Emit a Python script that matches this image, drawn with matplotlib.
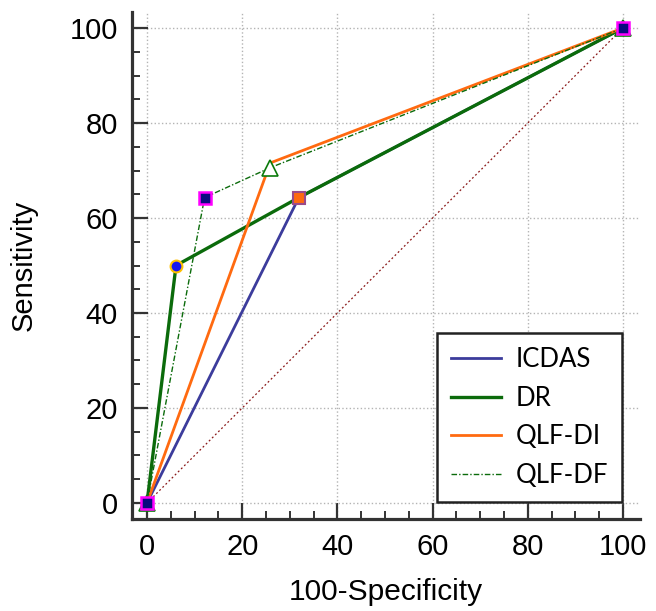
import matplotlib
matplotlib.use("Agg")
from matplotlib import pyplot as plt
from matplotlib.ticker import MultipleLocator

# ROC points (100-Specificity, Sensitivity)
icdas_x = [0, 31.9, 100]
icdas_y = [0, 64.3, 100]
dr_x = [0, 6.1, 31.9, 100]
dr_y = [0, 50.0, 64.3, 100]
qlfdi_x = [0, 25.9, 100]
qlfdi_y = [0, 71.6, 100]
qlfdf_x = [0, 12.1, 25.9, 100]
qlfdf_y = [0, 64.3, 70.6, 100]
series_names = ['ICDAS', 'DR', 'QLF-DI', 'QLF-DF']

plt.rcParams['font.family'] = ['Liberation Sans', 'DejaVu Sans']

fig = plt.figure(figsize=(6.56, 6.11), dpi=100)
ax = fig.add_axes([132 / 656, 1 - 519 / 611, 508 / 656, 507 / 611])

ax.plot([0, 100], [0, 100], color='#8b1a1a', lw=0.9, ls=(0, (1.5, 2)), zorder=2)

ax.plot(icdas_x, icdas_y, color='#3c3c9c', lw=2.0, label=series_names[0], zorder=3)
ax.plot(dr_x, dr_y, color='#0b6b0b', lw=2.4, label=series_names[1], zorder=3)
ax.plot(qlfdi_x, qlfdi_y, color='#ff6a10', lw=2.0, label=series_names[2], zorder=3)
ax.plot(qlfdf_x, qlfdf_y, color='#0b6b0b', lw=1.0, ls=(0, (4, 1.5, 1, 1.5)),
        label=series_names[3], zorder=3)

# markers
ax.plot(icdas_x[1:2], icdas_y[1:2], 's', ms=9, mfc='#ff6a10', mec='#9a4a8a', mew=1.5, zorder=5)
ax.plot(dr_x[1:2], dr_y[1:2], 'o', ms=8.5, mfc='#1515f0', mec='#ffc000', mew=1.5, zorder=5)
ax.plot([qlfdi_x[0], qlfdi_x[2]], [qlfdi_y[0], qlfdi_y[2]], '^', ms=11, mfc='white',
        mec='#0b7a0b', mew=1.2, zorder=5)
ax.plot(qlfdf_x[2:3], qlfdf_y[2:3], '^', ms=11, mfc='white', mec='#0b7a0b', mew=1.2, zorder=5)
ax.plot([qlfdf_x[0], qlfdf_x[1], qlfdf_x[3]], [qlfdf_y[0], qlfdf_y[1], qlfdf_y[3]], 's',
        ms=9, mfc='#0a0a80', mec='#ff00ff', mew=1.8, zorder=6)

ax.set_xlim(-3.15, 103.57)
ax.set_ylim(-3.37, 103.37)
ax.xaxis.set_major_locator(MultipleLocator(20))
ax.yaxis.set_major_locator(MultipleLocator(20))
ax.xaxis.set_minor_locator(MultipleLocator(5))
ax.yaxis.set_minor_locator(MultipleLocator(5))

ax.grid(True, which='major', color='#b4b4b4', ls=':', lw=1.0, zorder=0)
for side in ['top', 'right']:
    ax.spines[side].set_visible(False)
for side in ['left', 'bottom']:
    ax.spines[side].set_linewidth(2.3)
    ax.spines[side].set_color('#333333')

ax.tick_params(which='major', direction='in', length=11.5, width=1.6, color='#333333',
               labelsize=21, pad=10)
ax.tick_params(which='minor', direction='in', length=6, width=1.4, color='#333333')

ax.set_xlabel('100-Specificity', fontsize=21.5, labelpad=12)
ax.set_ylabel('Sensitivity', fontsize=21, labelpad=23)

leg = ax.legend(loc='lower right', bbox_to_anchor=(0.965, 0.0335), fancybox=False,
                framealpha=1, edgecolor='#222222', handlelength=1.95, handletextpad=0.55,
                labelspacing=0.53, borderpad=0.55, borderaxespad=0,
                prop={'family': ['Lato', 'DejaVu Sans'], 'size': 18.5})
leg.get_frame().set_linewidth(1.8)

fig.savefig('out.png', dpi=100)
